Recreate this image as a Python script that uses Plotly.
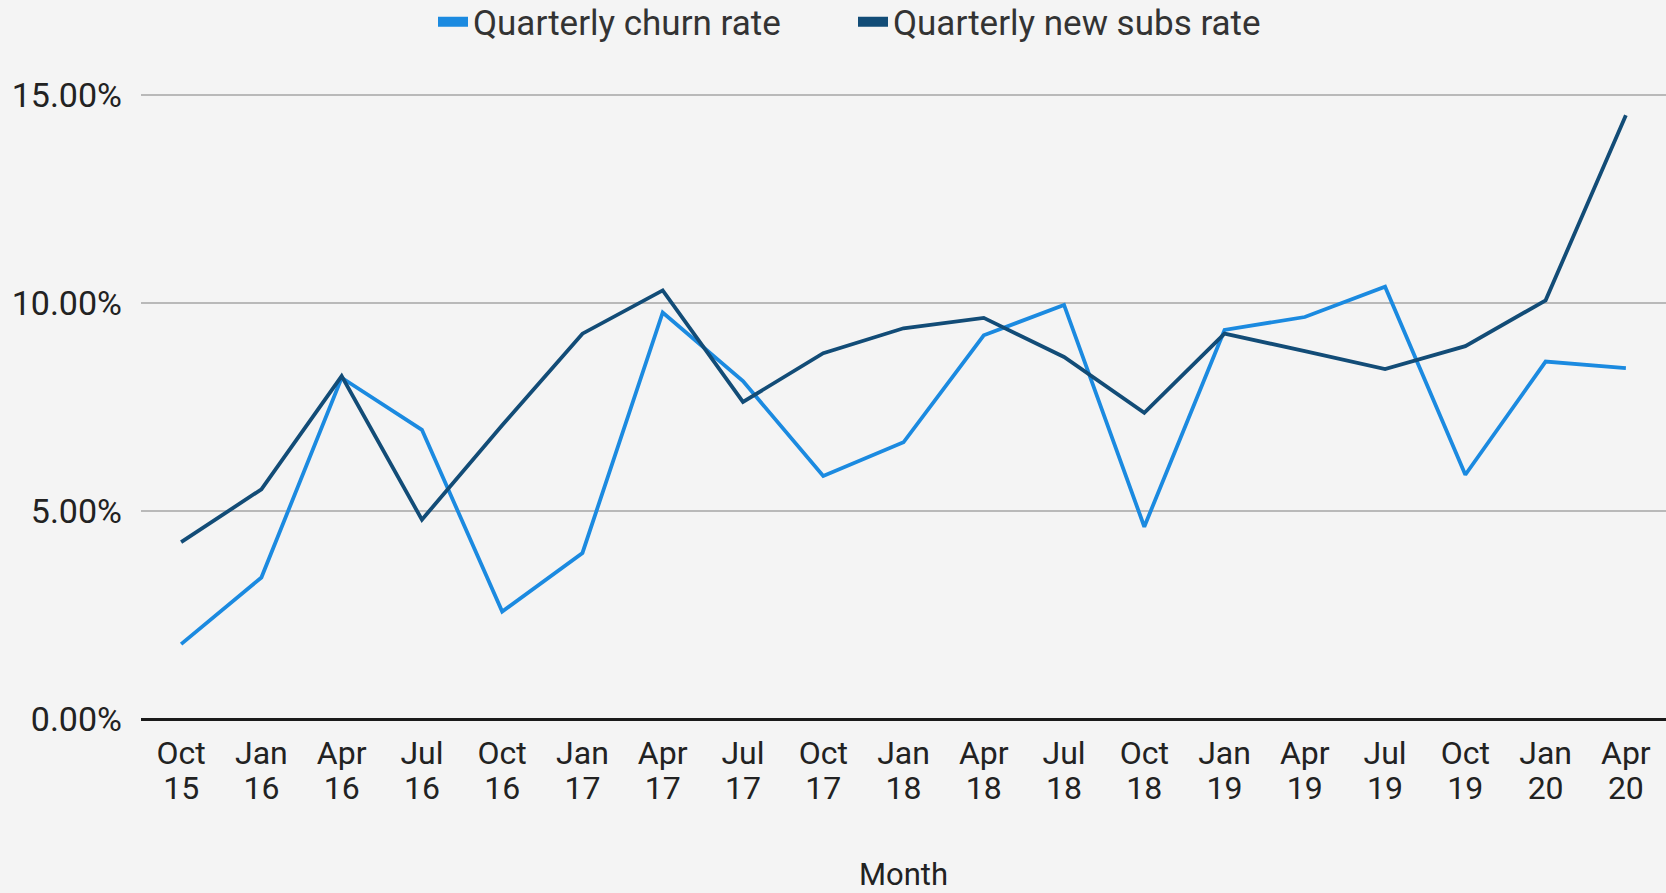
import plotly.graph_objects as go

quarters = ["Oct 15", "Jan 16", "Apr 16", "Jul 16", "Oct 16", "Jan 17", "Apr 17", "Jul 17",
            "Oct 17", "Jan 18", "Apr 18", "Jul 18", "Oct 18", "Jan 19", "Apr 19", "Jul 19",
            "Oct 19", "Jan 20", "Apr 20"]
month_ticks = ["Oct", "Jan", "Apr", "Jul", "Oct", "Jan", "Apr", "Jul", "Oct", "Jan", "Apr", "Jul",
               "Oct", "Jan", "Apr", "Jul", "Oct", "Jan", "Apr"]
year_ticks = ["15", "16", "16", "16", "16", "17", "17", "17", "17", "18", "18", "18", "18", "19",
              "19", "19", "19", "20", "20"]

churn_rate = [0.0180, 0.0340, 0.0820, 0.0695, 0.0258, 0.0399, 0.0977, 0.0812, 0.0584, 0.0665,
              0.0922, 0.0995, 0.0462, 0.0935, 0.0966, 0.1039, 0.0587, 0.0859, 0.0843]
new_subs_rate = [0.0425, 0.0552, 0.0824, 0.0479, 0.0706, 0.0926, 0.1030, 0.0762, 0.0879, 0.0939,
                 0.0964, 0.0870, 0.0736, 0.0926, 0.0884, 0.0841, 0.0896, 0.1006, 0.1451]

y_ticks = [0, 0.05, 0.10, 0.15]

CHURN_COLOR = "#1b8ae0"
NEW_COLOR = "#124c77"
FONT = "Roboto"
TEXT = "#222222"

fig = go.Figure()
fig.add_trace(go.Scatter(x=quarters, y=churn_rate, mode="lines", name="Quarterly churn rate",
                         line=dict(color=CHURN_COLOR, width=3.8), showlegend=False))
fig.add_trace(go.Scatter(x=quarters, y=new_subs_rate, mode="lines", name="Quarterly new subs rate",
                         line=dict(color=NEW_COLOR, width=3.8), showlegend=False, xaxis="x2"))
# legend entries (thick bar symbols)
fig.add_trace(go.Scatter(x=[None], y=[None], mode="lines", name="Quarterly churn rate",
                         line=dict(color=CHURN_COLOR, width=10)))
fig.add_trace(go.Scatter(x=[None], y=[None], mode="lines", name="Quarterly new subs rate",
                         line=dict(color=NEW_COLOR, width=10)))

fig.update_layout(
    width=1666, height=893,
    margin=dict(l=141, r=0, t=74, b=174),
    paper_bgcolor="#f4f4f4",
    plot_bgcolor="#f4f4f4",
    font=dict(family=FONT, color=TEXT, size=32),
    showlegend=True,
    legend=dict(orientation="h", xref="container", yref="container",
                x=433 / 1666, xanchor="left", y=1 - 22 / 893, yanchor="middle",
                font=dict(size=35, color="#333333"), itemwidth=30,
                entrywidth=375, bgcolor="rgba(0,0,0,0)"),
    xaxis=dict(
        type="category", categoryorder="array", categoryarray=quarters,
        range=[-0.5, 18.5], showgrid=False, ticks="",
        tickvals=quarters, ticktext=month_ticks, ticklabelstandoff=12,
        tickfont=dict(size=32, color=TEXT),
        showline=False, zeroline=False,
    ),
    xaxis2=dict(
        type="category", categoryorder="array", categoryarray=quarters,
        overlaying="x", anchor="y", side="bottom", matches="x",
        range=[-0.5, 18.5], showgrid=False, ticks="",
        tickvals=quarters, ticktext=year_ticks, ticklabelstandoff=47,
        tickfont=dict(size=32, color=TEXT),
        title=dict(text="Month", font=dict(size=31, color=TEXT), standoff=61),
        showline=False, zeroline=False,
    ),
    yaxis=dict(
        range=[0, 0.155], tickvals=y_ticks, tickformat=".2%",
        showgrid=True, gridcolor="#b9b9b9", gridwidth=1.5,
        zeroline=True, zerolinecolor="#1a1a1a", zerolinewidth=2.5,
        ticks="", ticklabelstandoff=18,
        tickfont=dict(size=34, color=TEXT),
    ),
)

fig.write_html("out.html")
